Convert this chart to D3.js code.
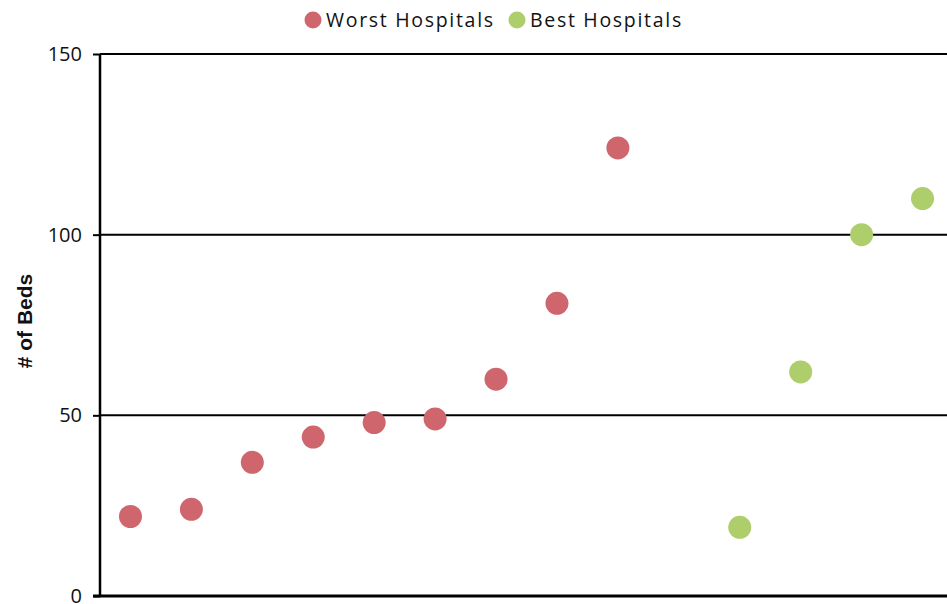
<!DOCTYPE html>
<html>
<head>
<meta charset="utf-8">
<script src="https://cdn.jsdelivr.net/npm/d3@7"></script>
<style>
  html, body { margin: 0; padding: 0; background: #fff; }
  svg { display: block; }
</style>
</head>
<body>
<svg id="chart" width="947" height="604"></svg>
<script>
// Beds per hospital, ordered by size within each group
const worstBeds = [22, 24, 37, 44, 48, 49, 60, 81, 124];
const bestBeds = [19, 62, 100, 110];
// Horizontal slots: worst hospitals in slots 0-8, slot 9 left empty, best in 10-13
const slotCount = 14;
const worstSlots = [0, 1, 2, 3, 4, 5, 6, 7, 8];
const bestSlots = [10, 11, 12, 13];
const yTicks = [0, 50, 100, 150];
const seriesNames = ["Worst Hospitals", "Best Hospitals"];
const seriesColors = ["#cf666d", "#aecd6b"];

const svg = d3.select("#chart");
const plotLeft = 100, plotRight = 953, plotTop = 54, plotBottom = 596;

const x = d3.scaleBand().domain(d3.range(slotCount)).range([plotLeft, plotRight]);
const y = d3.scaleLinear().domain([0, 150]).range([plotBottom, plotTop]);
const cx = i => x(i) + x.bandwidth() / 2;

// Horizontal gridlines
svg.append("g")
  .selectAll("line")
  .data(yTicks.filter(t => t > 0))
  .join("line")
  .attr("x1", plotLeft).attr("x2", 947)
  .attr("y1", d => y(d)).attr("y2", d => y(d))
  .attr("stroke", "#000").attr("stroke-width", 2);

// Y axis
const yAxis = svg.append("g")
  .attr("transform", `translate(${plotLeft},0)`)
  .call(d3.axisLeft(y).tickValues(yTicks).tickSize(7).tickPadding(11));
yAxis.select(".domain").attr("stroke", "#000").attr("stroke-width", 2.5)
  .attr("d", `M0,${plotTop}V${plotBottom}`);
yAxis.selectAll(".tick line").attr("stroke", "#000").attr("stroke-width", 2);
yAxis.selectAll(".tick text")
  .attr("font-family", "'Open Sans', sans-serif")
  .attr("font-size", 20)
  .attr("fill", "#111");

// X axis baseline
svg.append("line")
  .attr("x1", plotLeft - 7).attr("x2", 947)
  .attr("y1", y(0)).attr("y2", y(0))
  .attr("stroke", "#000").attr("stroke-width", 3);

// Y axis title
svg.append("text")
  .attr("transform", `translate(32,${(plotTop + plotBottom) / 2 - 4}) rotate(-90)`)
  .attr("text-anchor", "middle")
  .attr("font-family", "'Liberation Sans', Arial, sans-serif")
  .attr("font-weight", "bold")
  .attr("font-size", 21)
  .attr("fill", "#111")
  .text("# of Beds");

// Points
svg.append("g").selectAll("circle")
  .data(worstBeds.map((v, i) => ({ v, s: worstSlots[i] })))
  .join("circle")
  .attr("cx", d => cx(d.s)).attr("cy", d => y(d.v))
  .attr("r", 11.5).attr("fill", seriesColors[0]);

svg.append("g").selectAll("circle")
  .data(bestBeds.map((v, i) => ({ v, s: bestSlots[i] })))
  .join("circle")
  .attr("cx", d => cx(d.s)).attr("cy", d => y(d.v))
  .attr("r", 11.5).attr("fill", seriesColors[1]);

// Legend
const legendX = [313, 517];
const legend = svg.append("g").selectAll("g")
  .data(seriesNames)
  .join("g")
  .attr("transform", (d, i) => `translate(${legendX[i]},20)`);
legend.append("circle").attr("r", 8.5).attr("fill", (d, i) => seriesColors[i]);
legend.append("text")
  .attr("x", 13).attr("y", 7)
  .attr("font-family", "'Open Sans', sans-serif")
  .attr("font-size", 19.5)
  .attr("letter-spacing", 1.7)
  .attr("fill", "#111")
  .text(d => d);
</script>
</body>
</html>
